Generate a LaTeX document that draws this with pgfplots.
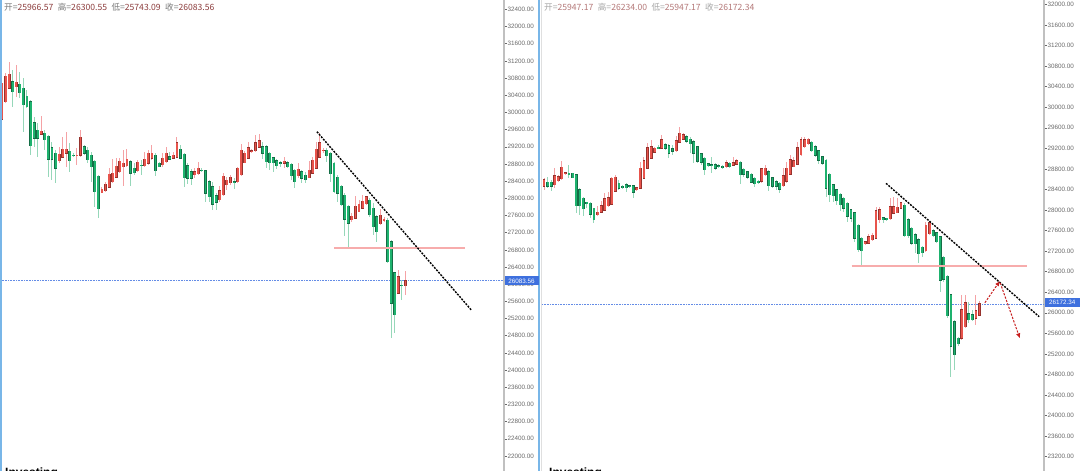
\documentclass[border=0pt]{standalone}
\usepackage{fontspec}
\setmainfont{Liberation Sans}
\newfontfamily\cjk{Noto Sans CJK SC}
\usepackage{pgfplots}
\usepackage{pgfplotstable}
\pgfplotsset{compat=1.18}
\usetikzlibrary{arrows.meta}

\definecolor{upfill}{RGB}{232,84,76}
\definecolor{upedge}{RGB}{150,50,45}
\definecolor{upwick}{RGB}{245,162,165}
\definecolor{dnfill}{RGB}{30,178,110}
\definecolor{dnedge}{RGB}{20,110,70}
\definecolor{dnwick}{RGB}{150,215,185}
\definecolor{axgray}{RGB}{192,192,192}
\definecolor{labgray}{RGB}{105,105,105}
\definecolor{pricebox}{RGB}{62,112,222}
\definecolor{dotblue}{RGB}{100,140,230}
\definecolor{divblue}{RGB}{120,182,232}
\definecolor{support}{RGB}{247,172,172}
\definecolor{arrowred}{RGB}{200,30,30}
\definecolor{hlab}{RGB}{120,120,120}
\definecolor{hnum}{RGB}{140,60,60}
\definecolor{hlabr}{RGB}{165,165,165}
\definecolor{hnumr}{RGB}{180,120,120}

% x = candle index, o h l c = open high low close
\pgfplotstableread{
x o h l c
0 29839 30793 29823 30677
1 30250 30910 30211 30848
2 30561 31181 30537 30887
3 30716 30987 30134 30483
4 30599 31104 30367 30700
5 30654 30949 30328 30460
6 30561 30793 29552 30173
7 30382 30522 30095 30134
8 30250 30289 29009 29226
9 29761 29901 29203 29397
10 29591 29761 28970 29397
11 29490 29917 29474 29567
12 29513 29591 29125 29358
13 29451 29474 28504 28908
14 29179 29319 28427 28908
15 29047 29125 28349 28698
16 28877 29203 28815 29024
17 28954 29420 28931 29148
18 29047 29552 28737 29148
19 29102 29280 28621 28877
20 29009 29047 28970 29001
21 29001 29164 28776 29009
22 29001 29591 28970 29420
23 29203 29241 29009 29047
24 29125 29203 28815 28892
25 29009 29086 28388 28737
26 28869 28892 27806 28155
27 28520 28543 27534 27751
28 28132 28271 28116 28209
29 28178 28388 28155 28326
30 28256 28698 28233 28558
31 28388 28908 28365 28582
32 28489 28931 28465 28753
33 28621 28931 28597 28869
34 28737 29125 28287 28815
35 28753 29141 28737 28908
36 28853 28892 28287 28582
37 28698 28815 28543 28597
38 28644 28892 28621 28838
39 28768 28892 28535 28760
40 28753 29086 28737 28908
41 28815 29125 28776 29047
42 28931 29241 28892 29047
43 29009 29047 28520 28644
44 28815 28853 28722 28737
45 28776 29047 28737 28931
46 28853 29203 28815 29047
47 28970 29086 28892 28908
48 28931 29086 28908 29009
49 28954 29420 28931 29296
50 29141 29241 28908 28931
51 29032 29047 28271 28481
52 28760 28815 28326 28465
53 28621 28675 28310 28465
54 28543 28698 28465 28621
55 28566 28853 28543 28698
56 28660 28698 28621 28652
57 28644 28660 27922 28116
58 28388 28427 27922 28039
59 28271 28388 27728 27860
60 28062 28116 27728 27907
61 27961 28287 27922 28178
62 28077 28582 28062 28520
63 28310 28504 28194 28427
64 28365 28543 28310 28497
65 28392 28465 28209 28384
66 28388 28737 28349 28698
67 28543 29264 28519 29125
68 28830 29109 28814 29047
69 28931 29319 28907 29179
70 29086 29140 29047 29109
71 29109 29474 29086 29295
72 29187 29497 29163 29342
73 29202 29319 28907 29047
74 29202 29241 28698 28853
75 29047 29086 28659 28830
76 28946 28969 28620 28830
77 28876 28907 28675 28760
78 28830 28876 28737 28814
79 28814 28969 28713 28861
80 28830 28876 28698 28737
81 28799 28830 28426 28519
82 28659 28675 28232 28387
83 28519 28830 28465 28675
84 28620 28659 28349 28465
85 28543 28620 28349 28426
86 28481 28876 28465 28659
87 28581 28969 28566 28892
88 28698 29319 28675 29140
89 28954 29528 28931 29295
90 29109 29163 29047 29125
91 29125 29163 28853 28985
92 29047 29086 28387 28566
93 28814 28853 28116 28155
94 28488 28543 27922 28116
95 28287 28310 27830 27844
96 28077 28116 27123 27511
97 27821 27844 26835 27417
98 27495 27650 27456 27588
99 27534 28054 27511 27821
100 27689 27961 27670 27867
101 27767 28077 27743 27937
102 27867 28054 27844 28038
103 27961 28000 27573 27611
104 27767 27883 27146 27340
105 27573 27611 26991 27223
106 27402 27743 27379 27611
107 27495 27573 27456 27511
108 27495 27534 26486 26525
109 26991 27030 24740 25555
110 26269 26292 24856 25283
111 25788 26331 25772 26176
112 25982 26098 25631 25958
113 25966.57 26300.55 25743.09 26083.56
}\leftdata

\pgfplotstableread{
x o h l c
0 28456 28617 28390 28584
1 28540 28650 28422 28456
2 28540 28584 28370 28456
3 28487 28812 28422 28663
4 28565 28680 28553 28650
5 28604 28960 28584 28831
6 28715 28747 28682 28724
7 28715 28876 28617 28682
8 28715 28727 28617 28630
9 28682 28695 27936 28079
10 28390 28422 27904 28079
11 28228 28260 27890 28021
12 28150 28163 28034 28131
13 28131 28163 27838 27916
14 28034 28047 27742 27807
15 27904 28085 27890 27955
16 27955 28176 27936 28085
17 28000 28324 27981 28215
18 28085 28357 28066 28241
19 28111 28650 28098 28617
20 28370 28682 28357 28637
21 28520 28584 28390 28422
22 28461 28487 28409 28448
23 28487 28520 28357 28435
24 28474 28487 28422 28461
25 28468 28487 28241 28345
26 28390 28456 28370 28435
27 28422 28942 28409 28812
28 28617 29040 28604 28955
29 28812 29298 28800 29215
30 29007 29363 28994 29234
31 29124 29234 29104 29202
32 29222 29267 29189 29208
33 29202 29460 29189 29363
34 29267 29298 29170 29202
35 29253 29279 29007 29104
36 29189 29267 29072 29137
37 29150 29448 29137 29344
38 29313 29612 29300 29496
39 29377 29496 29365 29464
40 29429 29464 29313 29332
41 29377 29417 29104 29286
42 29332 29365 28923 29104
43 29234 29247 28909 28942
44 29091 29117 28876 28923
45 29007 29026 28682 28779
46 28896 28909 28844 28857
47 28876 29040 28727 28870
48 28876 28909 28779 28813
49 28863 28889 28813 28850
50 28850 28876 28793 28838
51 28844 28974 28813 28923
52 28909 28942 28813 28844
53 28876 29040 28857 28923
54 28889 28987 28876 28955
55 28929 28955 28508 28683
56 28793 28825 28650 28696
57 28748 28767 28598 28637
58 28696 28727 28520 28540
59 28617 28650 28456 28508
60 28559 28584 28508 28546
61 28553 28813 28520 28800
62 28682 28876 28663 28813
63 28748 28779 28377 28468
64 28630 28650 28422 28456
65 28553 28584 28390 28456
66 28520 28553 28326 28403
67 28468 28813 28456 28663
68 28553 28942 28533 28813
69 28696 29072 28682 28974
70 28844 29026 28831 28960
71 28889 29332 28876 29215
72 29072 29417 29053 29365
73 29234 29417 29202 29370
74 29286 29397 29267 29380
75 29318 29343 29124 29150
76 29234 29260 29040 29059
77 29150 29163 28889 28973
78 29040 29053 28876 28909
79 28973 28987 28260 28422
80 28695 28714 28163 28293
81 28487 28506 28150 28280
82 28390 28409 28098 28176
83 28305 28323 27981 28098
84 28228 28245 27968 28034
85 28131 28149 27775 27872
86 28000 28013 27774 27839
87 27948 27967 27385 27449
88 27707 27727 27191 27223
89 27449 27482 26912 27210
90 27339 27404 27320 27385
91 27352 27534 27339 27482
92 27417 27546 27404 27508
93 27449 28065 27436 27987
94 27806 28065 27742 28000
95 27852 27871 27742 27806
96 27839 27852 27794 27806
97 27828 28227 27806 28065
98 27935 28247 27923 28065
99 27948 28227 27935 28052
100 28032 28163 28013 28142
101 28097 28130 27482 27495
102 27806 27839 27449 27495
103 27644 27677 27320 27352
104 27515 27546 27158 27339
105 27417 27449 26963 27145
106 27274 27300 27079 27171
107 27210 27773 27191 27707
108 27534 27773 27514 27754
109 27598 27624 27482 27495
110 27559 27578 27365 27385
111 27482 27495 26411 26638
112 27079 27105 26606 26651
113 26715 26735 25893 25938
114 26346 26365 24759 25342
115 25827 25860 24888 25180
116 25503 25536 25355 25393
117 25503 26346 25471 26055
118 25731 26346 25698 26197
119 25977 26217 25796 25860
120 25958 26055 25848 25860
121 25893 26346 25763 26042
122 25947.17 26234.00 25947.17 26172.34
}\rightdata

\pgfplotsset{
  panel/.style={
    anchor=south west, scale only axis, height=471pt,
    axis x line=none, axis y line=right,
    y axis line style={draw=axgray, line width=2pt, -},
    ytick style={draw=labgray, line width=0.5pt},
    tick align=outside, major tick length=2.5pt,
    ytick distance=400, scaled y ticks=false,
    yticklabel style={font=\fontsize{6.3}{7}\selectfont, text=labgray, inner sep=0.8pt,
      /pgf/number format/.cd, fixed, fixed zerofill, precision=2, 1000 sep={}, assume math mode=true},
  },
  cbase/.style={draw=none, fill=none, mark=none, forget plot,
    error bars/y dir=both, error bars/y explicit, error bars/error mark=none},
  isup/.style={restrict expr to domain={\thisrow{c}-\thisrow{o}}{0:1000000}},
  isdn/.style={restrict expr to domain={\thisrow{c}-\thisrow{o}}{-1000000:-0.0001}},
  trend/.style={black, line width=1.4pt, dash pattern=on 2pt off 1.2pt},
  supp/.style={support, line width=1.8pt},
  last/.style={dotblue, line width=0.6pt, dash pattern=on 0.8pt off 0.8pt},
}

% wicks, body outlines, body fills for one table
\newcommand\candles[1]{%
  \addplot[cbase, isup, error bars/error bar style={draw=upwick, line width=1pt}]
    table[x=x, y expr={(\thisrow{h}+\thisrow{l})/2}, y error expr={(\thisrow{h}-\thisrow{l})/2}] {#1};
  \addplot[cbase, isdn, error bars/error bar style={draw=dnwick, line width=1pt}]
    table[x=x, y expr={(\thisrow{h}+\thisrow{l})/2}, y error expr={(\thisrow{h}-\thisrow{l})/2}] {#1};
  \addplot[cbase, isup, error bars/error bar style={draw=upedge, line width=2.9pt}]
    table[x=x, y expr={(\thisrow{o}+\thisrow{c})/2}, y error expr={abs(\thisrow{c}-\thisrow{o})/2+10}] {#1};
  \addplot[cbase, isdn, error bars/error bar style={draw=dnedge, line width=2.9pt}]
    table[x=x, y expr={(\thisrow{o}+\thisrow{c})/2}, y error expr={abs(\thisrow{c}-\thisrow{o})/2+10}] {#1};
  \addplot[cbase, isup, error bars/error bar style={draw=upfill, line width=1.9pt}]
    table[x=x, y expr={(\thisrow{o}+\thisrow{c})/2}, y error expr={max(abs(\thisrow{c}-\thisrow{o})/2-2,3)}] {#1};
  \addplot[cbase, isdn, error bars/error bar style={draw=dnfill, line width=1.9pt}]
    table[x=x, y expr={(\thisrow{o}+\thisrow{c})/2}, y error expr={max(abs(\thisrow{c}-\thisrow{o})/2-2,3)}] {#1};
}

\begin{document}
\begin{tikzpicture}[x=1pt, y=1pt]
\path[use as bounding box] (0,0) rectangle (1080,471);
\fill[white] (0,0) rectangle (1080,471);

% left panel
\begin{axis}[panel, at={(0pt,0pt)}, width=504pt,
  xmin=-0.56, xmax=140.6, ymin=21651, ymax=32617]
  \addplot[last, forget plot] coordinates {(-1,26083.56) (142,26083.56)};
  \candles{\leftdata}
  \addplot[supp, forget plot] coordinates {(93,26851) (129.7,26851)};
  \addplot[trend, forget plot] coordinates {(88.2,29551) (131.6,25384)};
\end{axis}

% right panel
\begin{axis}[panel, at={(541pt,0pt)}, width=503pt,
  xmin=-0.84, xmax=140.06, ymin=22921, ymax=32087]
  \addplot[last, forget plot] coordinates {(-1,26172.34) (142,26172.34)};
  \candles{\rightdata}
  \addplot[supp, forget plot] coordinates {(86.2,26910) (135.2,26910)};
  \addplot[trend, forget plot] coordinates {(95.8,28519) (138.7,25924)};
  \addplot[arrowred, line width=1pt, dash pattern=on 2.2pt off 1.4pt, -{Latex[length=5pt,width=4.5pt]}, forget plot]
    coordinates {(123.5,26196) (127.7,26618)};
  \addplot[arrowred, line width=1pt, dash pattern=on 2.2pt off 1.4pt, -{Latex[length=5pt,width=4.5pt]}, forget plot]
    coordinates {(127.8,26580) (133.3,25503)};
\end{axis}

% frame lines
\fill[divblue] (0,0) rectangle (1.6,471);
\fill[divblue] (538.3,0) rectangle (539.8,471);
\draw[gray!25, line width=0.6pt] (541.6,0) -- (541.6,471);

% last price boxes
\node[fill=pricebox, text=white, inner sep=0pt, minimum width=34pt, minimum height=9pt,
  anchor=west, font=\fontsize{6.3}{7}\selectfont] at (504.3,190) {26083.56};
\node[fill=pricebox, text=white, inner sep=0pt, minimum width=35.7pt, minimum height=9pt,
  anchor=west, font=\fontsize{6.3}{7}\selectfont] at (1044.3,168.5) {26172.34};

% headers
\node[anchor=base west, inner sep=0pt, font=\cjk\fontsize{8.6}{10}\selectfont] at (4,460.8)
  {\textcolor{hlab}{开=}\textcolor{hnum}{25966.57}\hspace{4.5pt}\textcolor{hlab}{高=}\textcolor{hnum}{26300.55}\hspace{4.5pt}\textcolor{hlab}{低=}\textcolor{hnum}{25743.09}\hspace{4.5pt}\textcolor{hlab}{收=}\textcolor{hnum}{26083.56}};
\node[anchor=base west, inner sep=0pt, font=\cjk\fontsize{8.6}{10}\selectfont] at (544,460.8)
  {\textcolor{hlabr}{开=}\textcolor{hnumr}{25947.17}\hspace{4.5pt}\textcolor{hlabr}{高=}\textcolor{hnumr}{26234.00}\hspace{4.5pt}\textcolor{hlabr}{低=}\textcolor{hnumr}{25947.17}\hspace{4.5pt}\textcolor{hlabr}{收=}\textcolor{hnumr}{26172.34}};

% watermark, cut by the bottom edge
\node[anchor=base west, inner sep=0pt, font=\bfseries\fontsize{12}{12}\selectfont] at (5,-5.5) {Investing};
\node[anchor=base west, inner sep=0pt, font=\bfseries\fontsize{12}{12}\selectfont] at (549,-5.5) {Investing};
\end{tikzpicture}
\end{document}
